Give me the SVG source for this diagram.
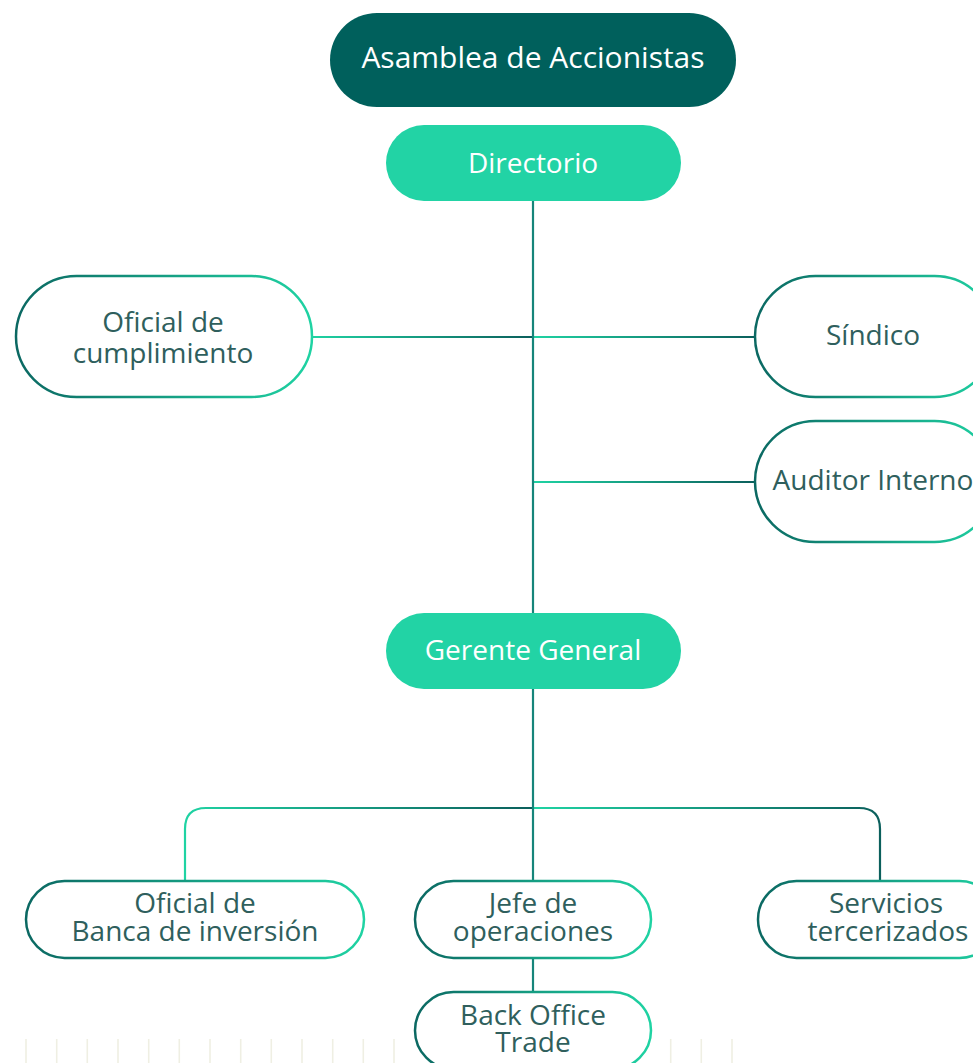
<svg xmlns="http://www.w3.org/2000/svg" width="973" height="1063" viewBox="0 0 973 1063">
<defs>
<linearGradient id="gLine" x1="0" y1="0" x2="1" y2="0">
<stop offset="0" stop-color="#1fd3a3"/>
<stop offset="1" stop-color="#0b5f5c"/>
</linearGradient>
<linearGradient id="gH1" gradientUnits="userSpaceOnUse" x1="312" y1="0" x2="533" y2="0">
<stop offset="0" stop-color="#1fd3a3"/>
<stop offset="1" stop-color="#0b5f5c"/>
</linearGradient>
<linearGradient id="gH2" gradientUnits="userSpaceOnUse" x1="533" y1="0" x2="755" y2="0">
<stop offset="0" stop-color="#1fd3a3"/>
<stop offset="1" stop-color="#0b5f5c"/>
</linearGradient>
<linearGradient id="gBorder" x1="0" y1="0" x2="1" y2="0">
<stop offset="0" stop-color="#0b6862"/>
<stop offset="1" stop-color="#1fd3a3"/>
</linearGradient>
<style>
.ln{fill:none;stroke:url(#gLine);stroke-width:2.2}
.trunk{fill:none;stroke:#16857a;stroke-width:2.2}
.ov{fill:#ffffff;stroke:url(#gBorder);stroke-width:2.5}
.tk{stroke:#efefe3;stroke-width:1.6}
.t{font-family:"Open Sans","Noto Sans","Liberation Sans",sans-serif;font-size:28px;fill:#2f5f5d;text-anchor:middle}
.tw{font-family:"Open Sans","Noto Sans","Liberation Sans",sans-serif;font-size:28px;fill:#ffffff;text-anchor:middle}
</style>
</defs>
<rect width="973" height="1063" fill="#ffffff"/>
<g id="ticks">
<line class="tk" x1="26" y1="1039" x2="26" y2="1063"/>
<line class="tk" x1="56.7" y1="1039" x2="56.7" y2="1063"/>
<line class="tk" x1="87.3" y1="1039" x2="87.3" y2="1063"/>
<line class="tk" x1="118" y1="1039" x2="118" y2="1063"/>
<line class="tk" x1="148.7" y1="1039" x2="148.7" y2="1063"/>
<line class="tk" x1="179.3" y1="1039" x2="179.3" y2="1063"/>
<line class="tk" x1="210" y1="1039" x2="210" y2="1063"/>
<line class="tk" x1="240.7" y1="1039" x2="240.7" y2="1063"/>
<line class="tk" x1="271.3" y1="1039" x2="271.3" y2="1063"/>
<line class="tk" x1="302" y1="1039" x2="302" y2="1063"/>
<line class="tk" x1="332.7" y1="1039" x2="332.7" y2="1063"/>
<line class="tk" x1="363.3" y1="1039" x2="363.3" y2="1063"/>
<line class="tk" x1="394" y1="1039" x2="394" y2="1063"/>
<line class="tk" x1="670.7" y1="1039" x2="670.7" y2="1063"/>
<line class="tk" x1="701.3" y1="1039" x2="701.3" y2="1063"/>
<line class="tk" x1="732" y1="1039" x2="732" y2="1063"/>
</g>
<g id="connectors">
<path d="M312 337 H533" fill="none" stroke="url(#gH1)" stroke-width="2.2"/>
<path d="M533 337 H755" fill="none" stroke="url(#gH2)" stroke-width="2.2"/>
<path d="M533 482 H755" fill="none" stroke="url(#gH2)" stroke-width="2.2"/>
<path class="ln" d="M185 881 V829 Q185 808 206 808 H533"/>
<path class="ln" d="M533 808 H859 Q880 808 880 829 V881"/>
<path class="trunk" d="M533 201 V613"/>
<path class="trunk" d="M533 689 V881"/>
<path class="trunk" d="M533 958 V992"/>
</g>
<g id="asamblea">
<rect x="330" y="13" width="406" height="94" rx="47" fill="#00605c"/>
<text class="tw" x="533" y="68" style="font-size:30px">Asamblea de Accionistas</text>
</g>
<g id="directorio">
<rect x="386" y="125" width="295" height="76" rx="38" fill="#22d3a5"/>
<text class="tw" x="533" y="173">Directorio</text>
</g>
<g id="oficial-cumplimiento">
<rect class="ov" x="16" y="276" width="296" height="121" rx="60.5"/>
<text class="t" x="163" y="332">Oficial de</text>
<text class="t" x="163" y="363">cumplimiento</text>
</g>
<g id="sindico">
<rect class="ov" x="755" y="276" width="240" height="121" rx="60.5"/>
<text class="t" x="873" y="345">Síndico</text>
</g>
<g id="auditor">
<rect class="ov" x="755" y="421" width="240" height="121" rx="60.5"/>
<text class="t" x="873" y="490">Auditor Interno</text>
</g>
<g id="gerente">
<rect x="386" y="613" width="295" height="76" rx="38" fill="#22d3a5"/>
<text class="tw" x="533" y="660">Gerente General</text>
</g>
<g id="oficial-banca">
<rect class="ov" x="26" y="881" width="338" height="77" rx="38.5"/>
<text class="t" x="195" y="913">Oficial de</text>
<text class="t" x="195" y="941">Banca de inversión</text>
</g>
<g id="jefe">
<rect class="ov" x="415" y="881" width="236" height="77" rx="38.5"/>
<text class="t" x="533" y="913">Jefe de</text>
<text class="t" x="533" y="941">operaciones</text>
</g>
<g id="servicios">
<rect class="ov" x="758" y="881" width="240" height="77" rx="38.5"/>
<text class="t" x="886" y="913">Servicios</text>
<text class="t" x="888" y="941">tercerizados</text>
</g>
<g id="backoffice">
<rect class="ov" x="415" y="992" width="236" height="77" rx="38.5"/>
<text class="t" x="533" y="1025">Back Office</text>
<text class="t" x="533" y="1052">Trade</text>
</g>
</svg>
